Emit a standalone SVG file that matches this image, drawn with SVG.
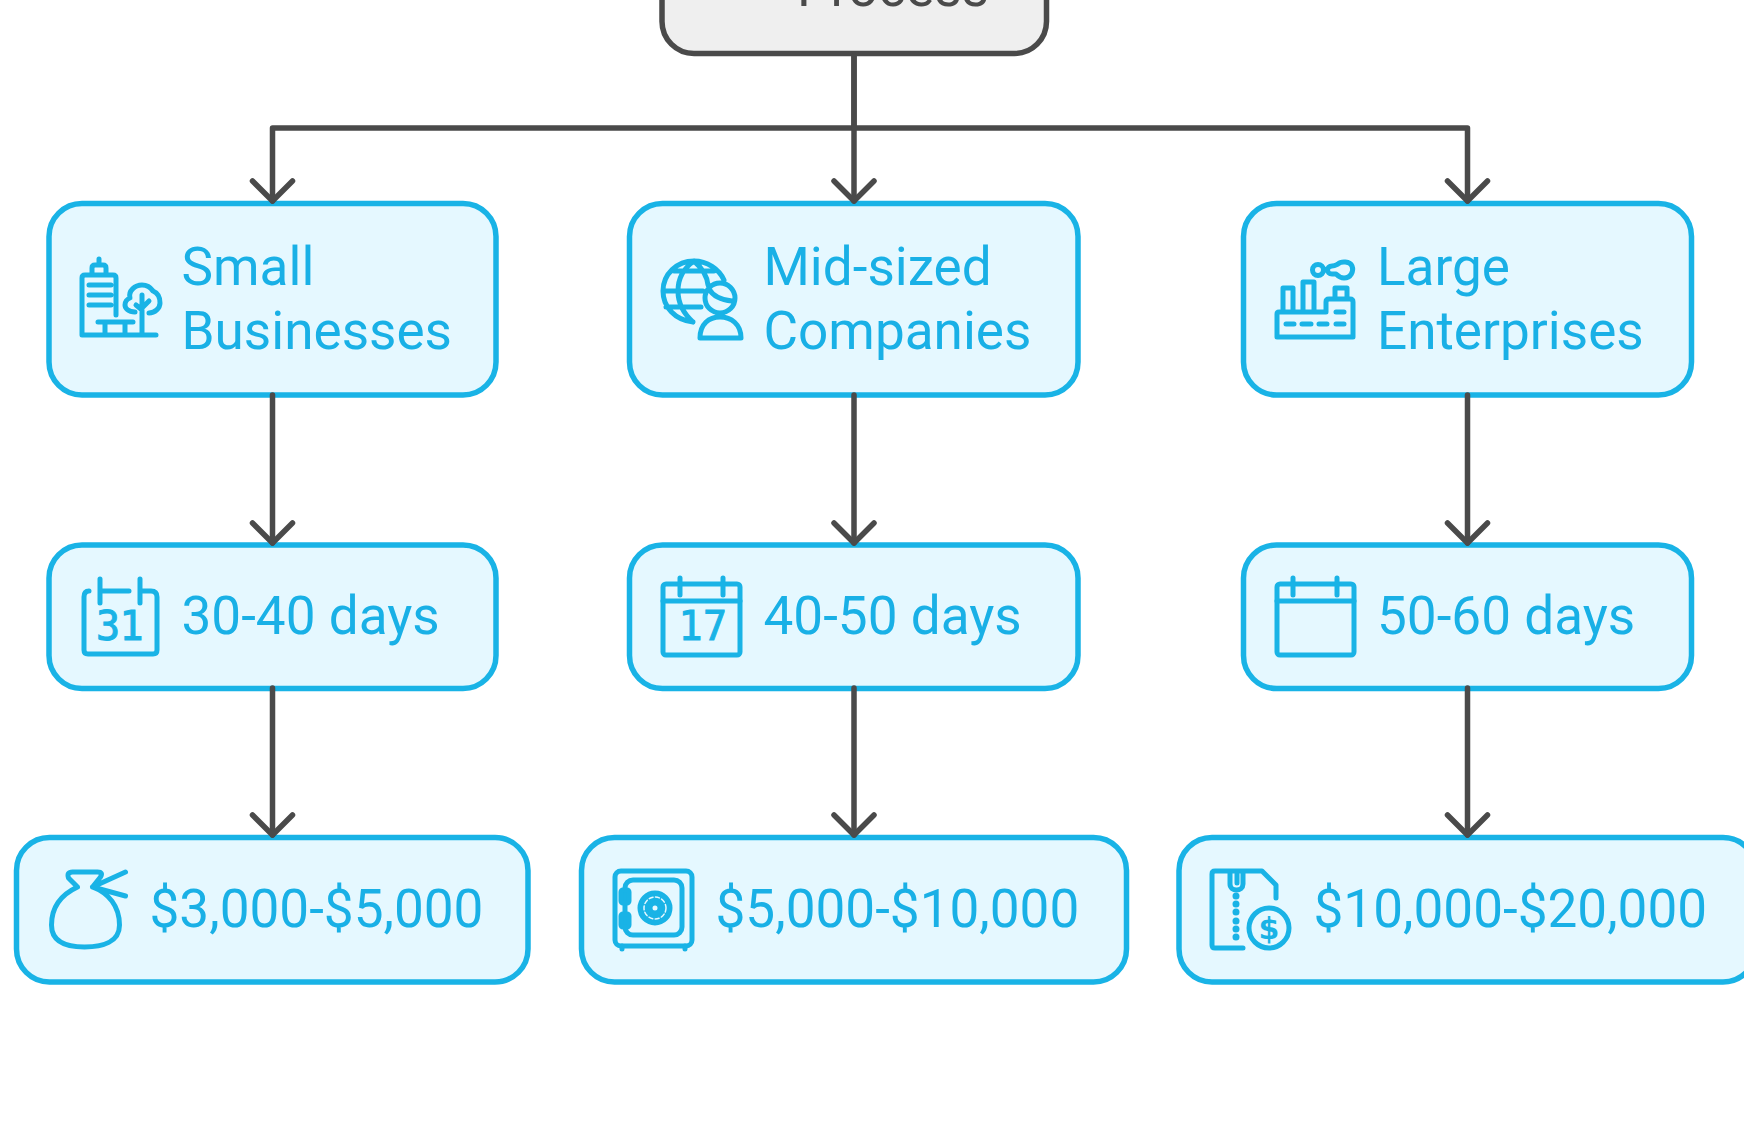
<svg xmlns="http://www.w3.org/2000/svg" width="1744" height="1128" viewBox="0 0 1744 1128">
<style>
.bg{fill:#fff}
.n{fill:#e5f8ff;stroke:#19b3e6;stroke-width:5.5}
.root{fill:#efefef;stroke:#4a4a4a;stroke-width:5.5}
.t{font-family:Roboto,"Liberation Sans",sans-serif;font-size:53.100px;fill:#19b0e6}
.rt{font-family:Roboto,"Liberation Sans",sans-serif;font-size:53.100px;fill:#4a4a4a}
.i{fill:none;stroke:#19b3e6;stroke-width:5;stroke-linecap:round;stroke-linejoin:round}
.d{font-family:"DejaVu Sans Mono",monospace;font-size:40px;fill:#19b3e6;stroke:#19b3e6;stroke-width:1}
.c{fill:none;stroke:#4a4a4a;stroke-width:5.500;stroke-linecap:round;stroke-linejoin:round}
</style>
<rect class="bg" width="1744" height="1128"/>
<g id="root"><rect class="root" x="662" y="-120" width="384.500" height="173.500" rx="32"/><text class="rt" x="797" y="6">Process</text></g>
<g id="small">
<rect class="n" x="49" y="203.500" width="447" height="191.500" rx="33"/>
<g class="i" transform="translate(80 258)"><path d="M36 57V20Q36 17 33 17H5Q2 17 2 20V77H76M12 17V10Q12 7 15 7H23Q26 7 26 10V17M19 7V1M9 27H31M9 37H31M9 47H31M18 64H53M25 64V77M45 64V77M62 37V77M56 47L62 52M69 43L62 50M55 54C48 54 45 50 45 47C45 44 47 41 50 40C48 33 55 27 62 27C67 27 71 30 73 33C78 35 80 40 80 45C80 50 75 55 69 55"/></g>
<text class="t" x="181.500" y="285">Small</text><text class="t" x="181.500" y="348.500">Businesses</text>
</g>
<g id="mid">
<rect class="n" x="629.500" y="203.500" width="448.500" height="191.500" rx="33"/>
<g class="i" transform="translate(661 258)"><path d="M32 64C14 62 2 49 2 33C2 16 16 3 33 3C46 3 58 11 63 22M13 13H53M2 33H42M5 49H40M32 64C22 55 17 44 17 33C17 20 23 10 33 3C41 10 46 17 47 27M59 25A15 15 0 1 0 59 55A15 15 0 1 0 59 25M48 31C52 38 60 42 71 43M39 80C39 66 48 59 59 59C70 59 80 66 80 80Z"/></g>
<text class="t" x="763.500" y="285">Mid-sized</text><text class="t" x="763.500" y="348.500">Companies</text>
</g>
<g id="large">
<rect class="n" x="1243.500" y="203.500" width="448" height="191.500" rx="33"/>
<g class="i" transform="translate(1275 260)"><path d="M4 52H51V42Q51 39 54 39H75Q78 39 78 42V77H2V54Q2 52 4 52ZM8 52V28H18V52M28 52V22H39V52M60 39V28H72V39M11 64H19M27 64H36M44 64H52M61 64H69M61 52H69M43 4.500A5.500 5.500 0 1 0 43 15.500A5.500 5.500 0 1 0 43 4.500M57 6C60 6 61 5 63 4C66 1 75 1 77 6C79 11 76 18 69 18C65 18 63 16 61 14H57C51 14 51 6 57 6Z"/></g>
<text class="t" x="1377" y="285">Large</text><text class="t" x="1377" y="348.500">Enterprises</text>
</g>
<g id="d1">
<rect class="n" x="49" y="545" width="447" height="143.500" rx="33"/>
<g class="i" transform="translate(81 577)"><path d="M8 14Q3 14 3 20V73Q3 77 7 77H72Q76 77 76 73V20Q76 14 70 14H61M19 2V26M59 2V26M19 14H48"/></g>
<text class="d" x="96" y="640" letter-spacing="-0.500">31</text>
<text class="t" x="181.500" y="634">30-40 days</text>
</g>
<g id="d2">
<rect class="n" x="629.500" y="545" width="448.500" height="143.500" rx="33"/>
<g class="i" transform="translate(661 576)"><rect x="2" y="8" width="77" height="71" rx="3"/><path d="M2 25H79M19 2V19M62 2V19"/></g>
<text class="d" x="678.500" y="640" letter-spacing="0.500">17</text>
<text class="t" x="763.500" y="634">40-50 days</text>
</g>
<g id="d3">
<rect class="n" x="1243.500" y="545" width="448" height="143.500" rx="33"/>
<g class="i" transform="translate(1275 576)"><rect x="2" y="8" width="77" height="71" rx="3"/><path d="M2 25H79M18 2V19M62 2V19"/></g>
<text class="t" x="1377" y="634">50-60 days</text>
</g>
<g id="c1">
<rect class="n" x="16.500" y="837.500" width="511.500" height="144.500" rx="33"/>
<g class="i" transform="translate(48.500 870)"><path d="M29 17L20 8Q18 2 24 2H49Q55 2 52 7L44 17C60 23 71 36 71 55C71 72 54 77 36 77C18 77 3 72 3 55C3 36 14 24 29 17ZM44 17L77 2M44 17L77 26"/></g>
<text class="t" x="149.500" y="927">$3,000-$5,000</text>
</g>
<g id="c2">
<rect class="n" x="581.500" y="837.500" width="545" height="144.500" rx="33"/>
<g class="i" transform="translate(613 869)"><rect x="2" y="2" width="77" height="75" rx="6"/><rect x="12" y="11" width="57" height="55" rx="8"/><rect x="8" y="21" width="8" height="13" rx="2"/><rect x="8" y="45" width="8" height="13" rx="2"/><path d="M9 77V80M72 77V80"/><circle cx="42" cy="39" r="15" fill="#19b3e6"/><circle cx="42" cy="39" r="11" stroke="#e5f8ff" stroke-width="1.500" stroke-dasharray="4 2.500"/><circle cx="42" cy="39" r="5" fill="#e5f8ff"/></g>
<text class="t" x="715.500" y="927">$5,000-$10,000</text>
</g>
<g id="c3">
<rect class="n" x="1179" y="837.500" width="577" height="144.500" rx="33"/>
<g class="i" transform="translate(1210 869)"><path d="M33 79H5Q2 79 2 76V5Q2 2 5 2H52L66 16V29M20 2V15C20 23 33 23 33 15V2M27 5V14"/><g stroke-width="7"><path d="M26 27h0M26 35h0M26 43h0M26 52h0M26 60h0M26 68h0"/></g><circle cx="59" cy="59" r="20"/></g>
<text x="1269" y="939" font-family="'DejaVu Sans',sans-serif" font-size="30" font-weight="700" text-anchor="middle" fill="#19b3e6">$</text>
<text class="t" x="1313.500" y="927">$10,000-$20,000</text>
</g>
<g id="connectors">
<path class="c" d="M854 56V128"/>
<path class="c" d="M854 128H272.500V201"/>
<path class="c" d="M854 128V201"/>
<path class="c" d="M854 128H1467.500V201"/>
<path class="c" d="M854 56V128" stroke-width="7"/>
<path class="c" d="M272.500 395V543M854 395V543M1467.500 395V543M272.500 688V835M854 688V835M1467.500 688V835"/>
<path class="c" d="M252.500 181l20 20 20-20M834 181l20 20 20-20M1447.500 181l20 20 20-20M252.500 523l20 20 20-20M834 523l20 20 20-20M1447.500 523l20 20 20-20M252.500 815l20 20 20-20M834 815l20 20 20-20M1447.500 815l20 20 20-20"/>
</g>
</svg>
